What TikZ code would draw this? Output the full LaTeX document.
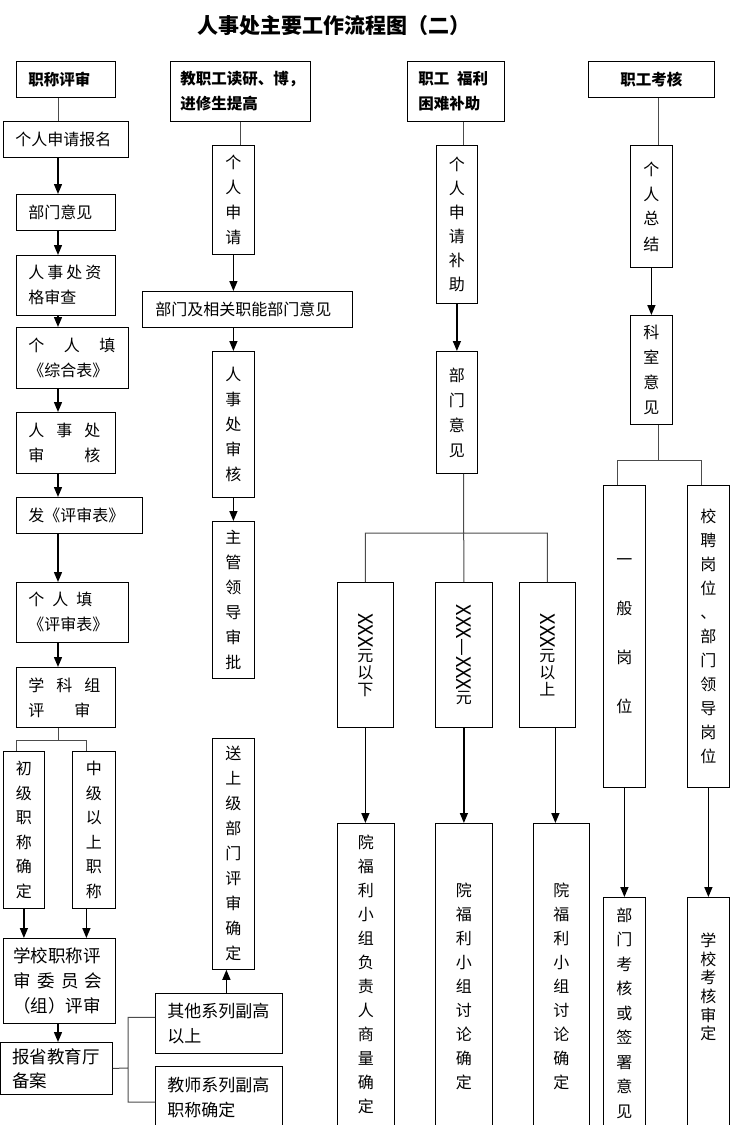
\documentclass[tikz,border=0pt]{standalone}
\usepackage{fontspec}
\setmainfont{Noto Sans CJK SC}
\usepackage{graphicx}
\usetikzlibrary{arrows.meta}
\newcommand{\zh}[2]{\fontsize{#1}{#2}\selectfont}

\tikzset{
  box/.style={draw, line width=0.8pt, anchor=north west, inner sep=0pt},
  textbox/.style={box, inner xsep=12pt, align=left, font=\zh{16}{25}},
  headbox/.style={textbox, font=\zh{15.5}{25}\bfseries},
  colbox/.style={box, text width=16pt, align=center, font=\zh{16}{25}},
  link/.style={line width=1pt, draw=black!70},
  flow/.style={line width=1.4pt, -{Triangle[length=10pt,width=8pt]}},
}

\begin{document}
\begin{tikzpicture}[x=1pt, y=-1pt]
\useasboundingbox (0,0) rectangle (729,1125);

\node[font=\zh{21}{21}\bfseries] (title) at (334,26) {人事处主要工作流程图（二）};

% 职称评审
\node[headbox, text width=75, minimum height=36] (h1) at (16,61) {职称评审};
\node[textbox, text width=101, minimum height=36] (a1) at (3,121) {个人申请报名};
\node[textbox, text width=75, minimum height=36] (a2) at (16,194) {部门意见};
\node[textbox, text width=75, minimum height=60] (a3) at (16,255) {\makebox[73pt]{人\hfill 事\hfill 处\hfill 资}\\格审查};
\node[textbox, text width=88, minimum height=61] (a4) at (16,327) {\makebox[87pt]{个\hfill 人\hfill 填}\\《综合表》};
\node[textbox, text width=75, minimum height=61] (a5) at (16,412) {\makebox[72pt]{人\hfill 事\hfill 处}\\\makebox[72pt]{审\hfill 核}};
\node[textbox, text width=102, minimum height=36] (a6) at (16,497) {发《评审表》};
\node[textbox, text width=88, minimum height=60] (a7) at (16,582) {\makebox[64pt]{个\hfill 人\hfill 填}\\《评审表》};
\node[textbox, text width=75, minimum height=60] (a8) at (16,667) {\makebox[72pt]{学\hfill 科\hfill 组}\\\makebox[62pt]{评\hfill 审}};
\node[colbox, minimum width=41, minimum height=157, font=\zh{16}{24.6}] (b1) at (3,751) {初\\级\\职\\称\\确\\定};
\node[colbox, minimum width=43, minimum height=157, font=\zh{16}{24.6}] (b2) at (72,751) {中\\级\\以\\上\\职\\称};
\node[textbox, inner xsep=10pt, text width=92, minimum height=85, font=\zh{17.5}{25}] (r1) at (3,938) {学校职称评\\\makebox[89pt]{审\hfill 委\hfill 员\hfill 会}\\（组）评审};
\node[textbox, text width=88, minimum height=52, font=\zh{17.5}{24}] (r2) at (0,1042) {报省教育厅\\备案};
\node[textbox, text width=103, minimum height=60, font=\zh{17}{25}] (d1) at (155,993) {其他系列副高\\以上};
\node[textbox, text width=103, text height=25, text depth=300, font=\zh{17}{25}] (d2) at (155,1066) {教师系列副高\\职称确定};
\node[colbox, minimum width=42, minimum height=231] (e1) at (212,738) {送\\上\\级\\部\\门\\评\\审\\确\\定};

% 教职工读研、博
\node[headbox, inner xsep=10pt, text width=120, minimum height=60] (h2) at (170,61) {教职工读研、博，\\进修生提高};
\node[colbox, minimum width=42, minimum height=109] (v1) at (212,145) {个\\人\\申\\请};
\node[textbox, inner xsep=13pt, text width=184, minimum height=36] (w1) at (142,291) {部门及相关职能部门意见};
\node[colbox, minimum width=42, minimum height=146] (v2) at (212,351) {人\\事\\处\\审\\核};
\node[colbox, minimum width=42, minimum height=157] (v3) at (212,521) {主\\管\\领\\导\\审\\批};

% 职工福利
\node[headbox, inner xsep=11pt, text width=75, minimum height=60] (h3) at (407,61) {职工\hspace{0.5em}福利\\困难补助};
\node[colbox, minimum width=41, minimum height=158, font=\zh{16}{24}] (v4) at (436,145) {个\\人\\申\\请\\补\\助};
\node[colbox, minimum width=41, minimum height=122] (v5) at (436,351) {部\\门\\意\\见};
\node[colbox, minimum width=56, minimum height=145, font=\zh{16}{17}] (m1) at (337,582) {\rotatebox{-90}{\zh{20}{20}XXX}\\元\\以\\下};
\node[colbox, minimum width=57, minimum height=145, font=\zh{16}{17}] (m2) at (435,582) {\rotatebox{-90}{\zh{20}{20}XXX—XXX}\\元};
\node[colbox, minimum width=56, minimum height=145, font=\zh{16}{17}] (m3) at (519,582) {\rotatebox{-90}{\zh{20}{20}XXX}\\元\\以\\上};
\node[colbox, minimum width=57, text height=25, text depth=300, font=\zh{16}{24}] (n1) at (337,823) {院\\福\\利\\小\\组\\负\\责\\人\\商\\量\\确\\定};
\node[colbox, minimum width=57, text height=73, text depth=300, font=\zh{16}{24}] (n2) at (435,823) {院\\福\\利\\小\\组\\讨\\论\\确\\定};
\node[colbox, minimum width=56, text height=73, text depth=300, font=\zh{16}{24}] (n3) at (533,823) {院\\福\\利\\小\\组\\讨\\论\\确\\定};

% 职工考核
\node[headbox, align=center, text width=102, minimum height=36] (h4) at (588,61) {职工考核};
\node[colbox, minimum width=42, minimum height=122] (k1) at (630,145) {个\\人\\总\\结};
\node[colbox, minimum width=42, minimum height=109] (k2) at (630,315) {科\\室\\意\\见};
\node[colbox, minimum width=42, minimum height=302, font=\zh{16}{49}] (p1) at (603,485) {一\\般\\岗\\位};
\node[colbox, minimum width=42, minimum height=302, font=\zh{16}{24}] (p2) at (687,485) {校\\聘\\岗\\位\\、\\部\\门\\领\\导\\岗\\位};
\node[colbox, minimum width=42, text height=24, text depth=300, font=\zh{16}{24.5}] (q1) at (603,897) {部\\门\\考\\核\\或\\签\\署\\意\\见};
\node[colbox, minimum width=42, text height=49, text depth=300, font=\zh{16}{18.7}] (q2) at (687,897) {学\\校\\考\\核\\审\\定};

\coordinate (c1) at (58,0);
\coordinate (c3) at (463.5,0);
\coordinate (c4) at (658,0);
\coordinate (t1) at (58,740);
\coordinate (t2) at (128,1068);
\coordinate (t3) at (463.5,533);
\coordinate (t4) at (658,460);

% connectors, column 1
\draw[link] (h1.south -| c1) -- (a1.north -| c1);
\draw
(a1.south -| c1) edge[flow] (a2.north -| c1)
(a2.south -| c1) edge[flow] (a3.north -| c1)
(a3.south -| c1) edge[flow] (a4.north -| c1)
(a4.south -| c1) edge[flow] (a5.north -| c1)
(a5.south -| c1) edge[flow] (a6.north -| c1)
(a6.south -| c1) edge[flow] (a7.north -| c1)
(a7.south -| c1) edge[flow] (a8.north -| c1);
\draw[link] (a8.south -| c1) -- (t1) -| ([xshift=-7.5]b1.north) (t1) -| ([xshift=-7.5]b2.north);
\draw
(b1.south) edge[flow] (b1.south |- r1.north)
([xshift=-7.5]b2.south) edge[flow] ([xshift=-7.5]b2.south |- r1.north)
(r1.south -| c1) edge[flow] (r2.north -| c1);
\draw[link] (r2.east) -- (t2) ([yshift=6]d1.west) -| (t2) |- ([yshift=-36]d2.north west);
\draw ([xshift=-7]e1.south |- d1.north) edge[flow] ([xshift=-7]e1.south);

% column 2
\draw[link] (h2.south) -- (h2.south |- v1.north);
\draw
(v1.south) edge[flow] (v1.south |- w1.north)
(v2.north |- w1.south) edge[flow] (v2.north)
(v2.south) edge[flow] (v3.north);

% column 3
\draw[link] (h3.south -| c3) -- (v4.north -| c3);
\draw (v4.south) edge[flow] (v5.north);
\draw[link] (v5.south -| t3) -- (m2.north) (t3) -| (m1.north) (t3) -| (m3.north);
\draw
(m1.south) edge[flow] (m1.south |- n1.north)
(m2.south) edge[flow] (m2.south |- n2.north)
([xshift=8]m3.south) edge[flow] ([xshift=8]m3.south |- n3.north);

% column 4
\draw[link] (h4.south -| c4) -- (k1.north -| c4);
\draw (k1.south) edge[flow] (k2.north);
\draw[link] (k2.south -| t4) -- (t4) -| ([xshift=-7]p1.north) (t4) -| ([xshift=-7]p2.north);
\draw
(p1.south) edge[flow] (p1.south |- q1.north)
(p2.south) edge[flow] (p2.south |- q2.north);
\end{tikzpicture}
\end{document}
